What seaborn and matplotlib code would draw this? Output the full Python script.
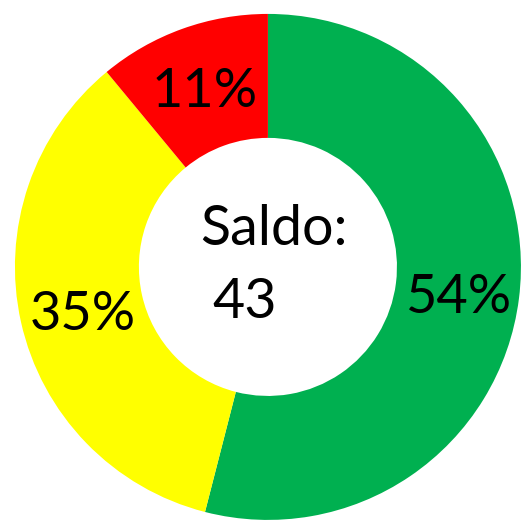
import matplotlib
matplotlib.use("Agg")
import matplotlib.pyplot as plt
import seaborn as sns

# data
categories = ["Positivo", "Neutro", "Negativo"]
shares = [54, 35, 11]
colors = ["#00B050", "#FFFF00", "#FF0000"]
center_title = "Saldo:"
center_value = 43

sns.set_theme(style="white")
plt.rcParams["font.family"] = ["Lato", "DejaVu Sans"]
plt.rcParams["text.color"] = "black"

fig = plt.figure(figsize=(5.27, 5.26), dpi=100)
ax = fig.add_axes([0, 0, 1, 1])

wedges, _, autotexts = ax.pie(
    shares,
    colors=colors,
    startangle=90,
    counterclock=False,
    autopct=lambda p: f"{p:.0f}%",
    wedgeprops=dict(width=0.49, linewidth=0),
    textprops=dict(fontsize=39, color="black"),
)

# label placement (baseline positions, similar to the original)
label_pos = [(0.751, -0.182), (-0.731, -0.249), (-0.249, 0.632)]
for t, (x, y) in zip(autotexts, label_pos):
    t.set_position((x, y))
    t.set_ha("center")
    t.set_va("baseline")

ax.text(0.024, 0.087, center_title, ha="center", va="baseline", fontsize=40, color="black")
ax.text(-0.091, -0.202, str(center_value), ha="center", va="baseline", fontsize=40, color="black")

ax.set_xlim(-1.059, 1.024)
ax.set_ylim(-1.024, 1.055)
ax.set_aspect("equal")
ax.axis("off")

fig.savefig("out.png", dpi=100, facecolor="white")
